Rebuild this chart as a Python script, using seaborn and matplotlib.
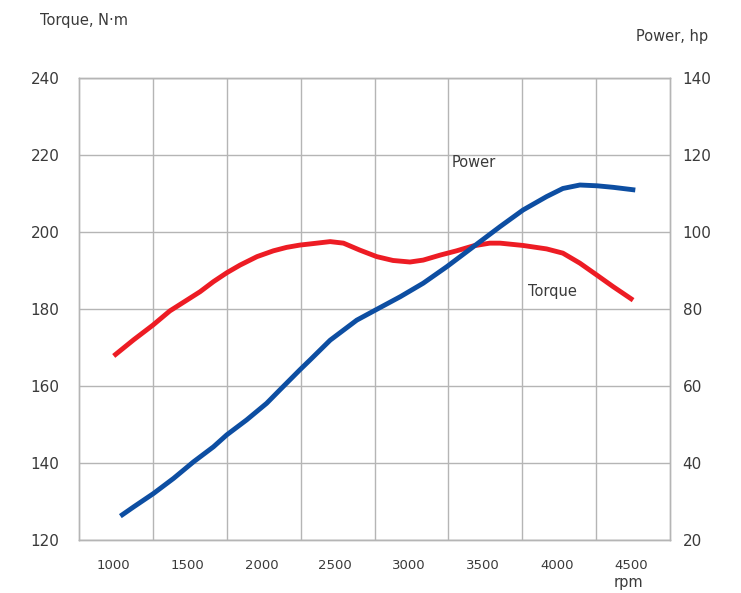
import numpy as np
import pandas as pd
import matplotlib
matplotlib.use("Agg")
import matplotlib.pyplot as plt
import seaborn as sns

# --- data ---
torque_rpm = [1000, 1135, 1265, 1380, 1495, 1585, 1675, 1765, 1855, 1970, 2080, 2170, 2260,
              2330, 2465, 2555, 2665, 2780, 2890, 3005, 3095, 3210, 3320, 3435, 3545,
              3615, 3770, 3930, 4040, 4155, 4270, 4380, 4515]
torque_nm = [167.8, 172.0, 175.8, 179.5, 182.3, 184.5, 187.1, 189.4, 191.4, 193.6, 195.1, 196.0, 196.6,
             196.9, 197.5, 197.1, 195.3, 193.6, 192.6, 192.2, 192.7, 194.0, 195.1, 196.4, 197.1,
             197.1, 196.5, 195.6, 194.5, 191.9, 188.8, 185.8, 182.3]

power_rpm = [1045, 1135, 1270, 1405, 1540, 1675, 1765, 1900, 2035, 2125, 2260,
             2330, 2465, 2645, 2780, 2940, 3095, 3255, 3390, 3480,
             3615, 3770, 3930, 4040, 4155, 4270, 4380, 4530]
power_hp = [26.2, 28.6, 32.1, 36.0, 40.3, 44.2, 47.3, 51.2, 55.5, 59.0, 64.2,
            66.8, 71.9, 77.1, 79.9, 83.2, 86.7, 91.0, 94.9, 97.5,
            101.4, 105.7, 109.2, 111.3, 112.2, 112.0, 111.6, 110.9]

rpm_ticks = [1000, 1500, 2000, 2500, 3000, 3500, 4000, 4500]
torque_ticks = [120, 140, 160, 180, 200, 220, 240]
power_ticks = [20, 40, 60, 80, 100, 120, 140]

torque_df = pd.DataFrame({"rpm": torque_rpm, "torque": torque_nm})
power_df = pd.DataFrame({"rpm": power_rpm, "power": power_hp})

sns.set_style("white")
plt.rcParams['font.family'] = ['DejaVu Sans']

RED = "#ED1C24"
BLUE = "#0D4EA2"
GRID = "#b5b5b5"
TXT = "#3a3a3a"

fig = plt.figure(figsize=(7.41, 5.93), dpi=100)
ax = fig.add_axes([0.1066, 0.0894, 0.7976, 0.7791])
ax2 = ax.twinx()

sns.lineplot(data=torque_df, x="rpm", y="torque", ax=ax, color=RED, linewidth=3.5,
             solid_capstyle="butt", solid_joinstyle="round")
sns.lineplot(data=power_df, x="rpm", y="power", ax=ax2, color=BLUE, linewidth=3.5,
             solid_capstyle="butt", solid_joinstyle="round")

ax.set_xlim(765, 4765)
ax.set_ylim(120, 240)
ax2.set_ylim(20, 140)

ax.set_xticks(rpm_ticks)
ax.set_xticks([1265 + 500 * i for i in range(7)], minor=True)
ax.set_yticks(torque_ticks)
ax2.set_yticks(power_ticks)

ax.grid(False)
ax2.grid(False)
ax.grid(True, which="minor", axis="x", color=GRID, linewidth=1.0)
ax.grid(True, which="major", axis="y", color=GRID, linewidth=1.0)

ax.tick_params(axis="x", which="both", length=0, pad=14, labelsize=9.5, labelcolor=TXT)
ax.tick_params(axis="y", length=0, pad=14, labelsize=11, labelcolor=TXT)
ax2.tick_params(axis="y", length=0, pad=9, labelsize=11, labelcolor=TXT)

for a in (ax, ax2):
    a.set_xlabel("")
    a.set_ylabel("")
    for s in a.spines.values():
        s.set_color(GRID)
        s.set_linewidth(1.0)

fig.text(40 / 741, 1 - 20 / 593, "Torque, N·m", ha="left", va="center", fontsize=10.5, color=TXT)
fig.text(708 / 741, 1 - 36 / 593, "Power, hp", ha="right", va="center", fontsize=10.5, color=TXT)
fig.text(628 / 741, 1 - 582 / 593, "rpm", ha="center", va="center", fontsize=10.5, color=TXT)

ax.text(3290, 218, "Power", ha="left", va="center", fontsize=10.5, color=TXT)
ax.text(3805, 184.5, "Torque", ha="left", va="center", fontsize=10.5, color=TXT)

fig.savefig("out.png", dpi=100)
